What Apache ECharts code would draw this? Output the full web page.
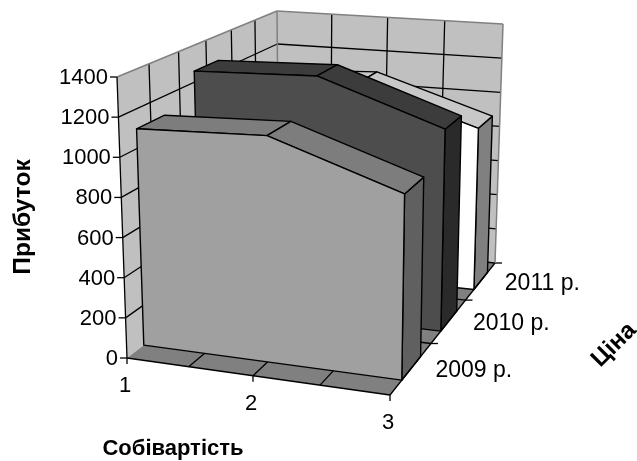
<!DOCTYPE html>
<html>
<head>
<meta charset="utf-8">
<style>
  html, body { margin: 0; background: #fff; }
  #chart { width: 637px; height: 461px; }
</style>
<script src="https://cdn.jsdelivr.net/npm/echarts@6/dist/echarts.min.js"></script>
</head>
<body>
<div id="chart"></div>
<script>
const categories = [1, 2, 3]
const seriesNames = ['2009 р.', '2010 р.', '2011 р.']
const values2009 = [1100, 1120, 895]
const values2010 = [1260, 1280, 1050]
const values2011 = [1080, 1110, 900]
const valueTicks = [0, 200, 400, 600, 800, 1000, 1200, 1400]

const fontFamily = '"Liberation Sans", Arial, sans-serif'
const lineColor = '#000'
const depthGap = 0.27

// wall corners on the page, the box is drawn in perspective
const floorCorners = [[127, 358], [390, 395], [495, 263], [279, 242]]
const topCorners = [[117, 77], [394, 97], [503, 24], [277, 11]]

function makeHomography (p) {
  const [x0, y0] = p[0], [x1, y1] = p[1], [x2, y2] = p[2], [x3, y3] = p[3]
  const dx1 = x1 - x2, dx2 = x3 - x2, sx = x0 - x1 + x2 - x3
  const dy1 = y1 - y2, dy2 = y3 - y2, sy = y0 - y1 + y2 - y3
  const den = dx1 * dy2 - dx2 * dy1
  const g = (sx * dy2 - dx2 * sy) / den
  const h = (dx1 * sy - sx * dy1) / den
  const a = x1 - x0 + g * x1, b = x3 - x0 + h * x3
  const d = y1 - y0 + g * y1, e = y3 - y0 + h * y3
  return (u, w) => {
    const q = g * u + h * w + 1
    return [(a * u + b * w + x0) / q, (d * u + e * w + y0) / q]
  }
}
const floorMap = makeHomography(floorCorners)
const topMap = makeHomography(topCorners)

// u: along categories, w: depth, v: height, all 0..1
function project (u, w, v) {
  const a = floorMap(u, w), b = topMap(u, w)
  return [a[0] + (b[0] - a[0]) * v, a[1] + (b[1] - a[1]) * v]
}

function scaled (params, api, cat, val) {
  const p = api.coord([cat, val])
  const c = params.coordSys
  return [(p[0] - c.x) / c.width, (c.y + c.height - p[1]) / c.height]
}

function poly (points, fill, stroke, width) {
  return {
    type: 'polygon',
    shape: { points: points },
    style: { fill: fill, stroke: stroke || null, lineWidth: width || 1, lineJoin: 'round' },
  }
}
function line (a, b, color, width) {
  return {
    type: 'line',
    shape: { x1: a[0], y1: a[1], x2: b[0], y2: b[1] },
    style: { stroke: color || lineColor, lineWidth: width || 1.3 },
  }
}
function label (text, x, y, align, size, bold, rotation) {
  return {
    type: 'text',
    x: x,
    y: y,
    rotation: rotation || 0,
    style: {
      text: text,
      fill: '#000',
      font: (bold ? 'bold ' : '') + size + 'px ' + fontFamily,
      align: align,
      verticalAlign: 'middle',
    },
  }
}

function renderBox (params, api) {
  const kids = []
  // left wall, back wall, floor
  kids.push(poly([project(0, 0, 0), project(0, 1, 0), project(0, 1, 1), project(0, 0, 1)], '#c0c0c0'))
  kids.push(poly([project(0, 1, 0), project(1, 1, 0), project(1, 1, 1), project(0, 1, 1)], '#c0c0c0'))
  kids.push(poly([project(0, 0, 0), project(1, 0, 0), project(1, 1, 0), project(0, 1, 0)], '#808080'))

  valueTicks.forEach(t => {
    const v = scaled(params, api, categories[0], t)[1]
    if (t > 0 && t < valueTicks[valueTicks.length - 1]) {
      kids.push(line(project(0, 0, v), project(0, 1, v)))
      kids.push(line(project(0, 1, v), project(1, 1, v)))
    }
    const p = project(0, 0, v)
    kids.push(line([p[0] - 7, p[1]], p))
    kids.push(label(String(t), p[0] - 9, p[1] + 1, 'right', 22))
  })
  for (let k = 1; k < 6; k++) {
    kids.push(line(project(0, k / 6, 0), project(0, k / 6, 1)))
  }
  for (let k = 1; k < 4; k++) {
    kids.push(line(project(k / 4, 1, 0), project(k / 4, 1, 1)))
    kids.push(line(project(k / 4, 0, 0), project(k / 4, 1, 0)))
  }
  seriesNames.forEach((name, i) => {
    const a = project(0, (i + 1) / 3, 0), b = project(1, (i + 1) / 3, 0)
    kids.push(line(a, b))
    kids.push(line(b, [b[0] + 7, b[1]]))
  })
  // wall border
  kids.push(line(project(0, 0, 1), project(0, 1, 1), '#808080', 1.5))
  kids.push(line(project(0, 1, 1), project(1, 1, 1), '#808080', 1.5))
  kids.push(line(project(1, 1, 1), project(1, 1, 0), '#808080', 1.5))
  kids.push(line(project(0, 1, 1), project(0, 1, 0), '#808080', 1.5))
  return { type: 'group', children: kids }
}

function renderAxes () {
  const kids = []
  kids.push(line(project(0, 0, 0), project(0, 0, 1)))
  kids.push(line(project(0, 0, 0), project(1, 0, 0)))
  kids.push(line(project(1, 0, 0), project(1, 1, 0)))
  categories.forEach((c, i) => {
    const p = project(i / (categories.length - 1), 0, 0)
    kids.push(line(p, [p[0], p[1] + 6]))
    kids.push(label(String(c), p[0] - 2, p[1] + 28, 'center', 22))
  })
  seriesNames.forEach((name, i) => {
    const p = project(1, (i + 0.5) / 3, 0)
    kids.push(label(name, p[0] + 24, p[1] + 3, 'left', 23))
  })
  kids.push(label('Прибуток', 23, 217, 'center', 24.5, true, Math.PI / 2))
  kids.push(label('Собівартість', 173, 449, 'center', 22, true))
  kids.push(label('Ціна', 614, 345, 'center', 24, true, Math.PI / 4))
  return { type: 'group', children: kids }
}

function makeArea (values, index, front, top, side) {
  return {
    type: 'custom',
    coordinateSystem: 'cartesian2d',
    z: 10 - index,
    data: values.map((v, i) => [categories[i], v]),
    renderItem: function (params, api) {
      if (params.dataIndex !== 0) return null
      const pts = values.map((v, i) => scaled(params, api, categories[i], v))
      const w0 = (index + depthGap) / 3
      const w1 = (index + 1 - depthGap) / 3
      const last = pts[pts.length - 1]
      const kids = []
      // side at the right end
      kids.push(poly([project(1, w0, 0), project(1, w1, 0), project(1, w1, last[1]), project(1, w0, last[1])], side, lineColor, 1.4))
      // top strips
      for (let i = 0; i < pts.length - 1; i++) {
        const a = pts[i], b = pts[i + 1]
        kids.push(poly([project(a[0], w0, a[1]), project(b[0], w0, b[1]), project(b[0], w1, b[1]), project(a[0], w1, a[1])], top, lineColor, 1.4))
      }
      // front face
      const face = pts.map(p => project(p[0], w0, p[1]))
      face.push(project(1, w0, 0), project(0, w0, 0))
      kids.push(poly(face, front, lineColor, 1.4))
      return { type: 'group', children: kids }
    },
  }
}

const chart = echarts.init(document.getElementById('chart'))
chart.setOption({
  animation: false,
  grid: { left: 0, right: 0, top: 0, bottom: 0 },
  xAxis: { type: 'value', min: 1, max: 3, show: false },
  yAxis: { type: 'value', min: 0, max: 1400, show: false },
  series: [
    { type: 'custom', coordinateSystem: 'cartesian2d', z: 1, data: [[1, 0]], renderItem: renderBox, silent: true },
    makeArea(values2011, 2, '#ffffff', '#c8c8c8', '#808080'),
    makeArea(values2010, 1, '#4d4d4d', '#3c3c3c', '#2a2a2a'),
    makeArea(values2009, 0, '#a0a0a0', '#7d7d7d', '#606060'),
    { type: 'custom', coordinateSystem: 'cartesian2d', z: 20, data: [[1, 0]], renderItem: renderAxes, silent: true },
  ],
})
</script>
</body>
</html>
